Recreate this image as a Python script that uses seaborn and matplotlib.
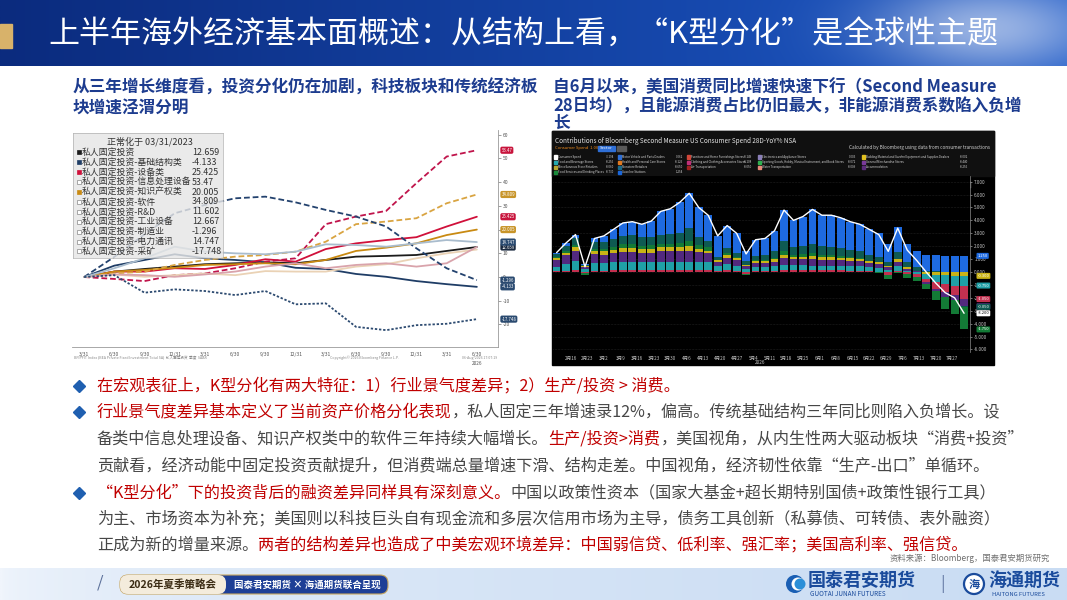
import numpy as np
import pandas as pd
import matplotlib
matplotlib.use("Agg")
import matplotlib.pyplot as plt
import matplotlib.transforms as mtrans
from matplotlib.patches import Rectangle, FancyBboxPatch, Circle
import seaborn as sns

sns.set_theme(style="white")
plt.rcParams["font.family"] = ["Noto Sans CJK SC", "DejaVu Sans"]
plt.rcParams["axes.unicode_minus"] = False

# ---------------- left chart data (normalised to 03/31/2023) ----------------
quarter_labels = ["3/31", "6/30", "9/30", "12/31", "3/31", "6/30", "9/30",
                  "12/31", "3/31", "6/30", "9/30", "12/31", "3/31", "6/30"]
pfi_total = [0, 2.3, 3.4, 4.4, 5.4, 5.8, 6.2, 5.8, 7.2, 8.6, 8.9, 9.3, 11.0, 12.659]
pfi_infra = [0, 4.8, 7.2, 9.6, 7.9, 7.2, 6.2, 3.9, 3.4, 1.3, 0.1, -1.7, -3.0, -4.133]
pfi_equip = [0, 2.3, 2.3, 3.7, 3.4, 5.1, 7.5, 6.5, 11.8, 14.2, 15.6, 16.8, 21.3, 25.425]
pfi_info = [0, -0.8, -1.7, 0.8, 1.5, 3.7, 6.5, 7.9, 22.3, 25.5, 27.9, 39.6, 50.8, 53.47]
pfi_ip = [0, 2.3, 3.0, 3.9, 5.1, 5.4, 5.8, 5.4, 7.2, 11.0, 12.4, 14.2, 17.7, 20.005]
pfi_soft = [0, 1.5, 2.3, 5.1, 7.2, 8.6, 9.3, 10.7, 14.9, 22.3, 23.4, 24.8, 31.1, 34.809]
pfi_rnd = [0, 1.1, 0.1, 0.8, 1.5, 0.8, 2.5, 2.3, 2.3, 4.4, 5.4, 7.9, 10.0, 11.602]
pfi_indus = [0, 1.1, 0.8, 0.1, 1.1, 2.3, 4.4, 5.8, 3.7, 5.1, 5.8, 4.4, 5.8, 12.667]
pfi_manuf = [0, 8.5, 18.0, 26.9, 30.4, 33.2, 33.9, 31.5, 28.3, 25.5, 21.3, 12.1, 3.7, -1.296]
pfi_power = [0, 3.7, 7.9, 12.8, 10.7, 10.0, 9.6, 10.7, 13.8, 13.5, 12.8, 14.2, 15.6, 14.747]
pfi_mining = [0, 0.8, -6.6, -5.2, -5.9, -7.6, -5.9, -11.5, -11.1, -21.0, -22.4, -20.3, -19.7, -17.748]

left_names = ["私人固定投资", "私人固定投资-基础结构类", "私人固定投资-设备类",
              "私人固定投资-信息处理设备", "私人固定投资-知识产权类", "私人固定投资-软件",
              "私人固定投资-R&D", "私人固定投资-工业设备", "私人固定投资-制造业",
              "私人固定投资-电力通讯", "私人固定投资-采矿"]
left_values = [pfi_total, pfi_infra, pfi_equip, pfi_info, pfi_ip, pfi_soft,
               pfi_rnd, pfi_indus, pfi_manuf, pfi_power, pfi_mining]
left_colors = ["#1b1b1b", "#1f3d66", "#d0103a", "#c0144b", "#c98a12", "#d9a441",
               "#ead2b5", "#d9a3ab", "#23426e", "#a9bccd", "#2c4a70"]
left_dash = [None, None, None, (3.2, 1.6), None, (3.2, 1.6), None, None,
             (3.2, 1.6), None, (1.3, 1.0)]
left_filled = [True, True, True, False, True, False, False, False, False, False, False]
left_tagged = [True, True, True, True, True, True, False, False, True, True, True]
left_tag_colors = ["#1b2a40", "#2a4a70", "#c8143c", "#c8143c", "#c8952a", "#c8952a",
                   None, None, "#2a4a70", "#2a4a70", "#2a4a70"]

# ---------------- right chart data (28D YoY contributions) ----------------
day_offsets = list(range(0, 176, 4))  # days after 2026-02-10
week_labels = ["2月16", "2月23", "3月2", "3月9", "3月16", "3月23", "3月30", "4月6",
               "4月13", "4月20", "4月27", "5月4", "5月11", "5月18", "5月25", "6月1",
               "6月8", "6月15", "6月22", "6月29", "7月6", "7月13", "7月20", "7月27"]
week_label_days = [6, 13, 20, 27, 34, 41, 48, 55, 62, 69, 76, 83, 90, 97, 104, 111,
                   118, 125, 132, 139, 146, 153, 160, 167]
gasoline = [0.1, 0.2, 0.3, 0.05, 0.3, 0.45, 0.75, 1.0, 1.05, 1.0, 1.2, 1.8, 1.95, 2.35, 2.7,
            2.3, 2.0, 1.6, 1.75, 1.5, 0.8, 1.25, 1.3, 1.6, 2.4, 2.1, 2.3, 2.7, 2.4, 2.45,
            2.35, 2.2, 2.1, 1.95, 1.8, 1.35, 1.9, 1.4, 1.25, 1.25, 1.25, 1.25, 1.25, 1.25]
nonstore = [0.25, 0.4, 0.5, 0.1, 0.5, 0.55, 0.6, 0.65, 0.7, 0.65, 0.65, 0.7, 0.75, 0.8, 1.0,
            0.6, 0.5, 0.25, 0.4, 0.35, 0.3, 0.35, 0.4, 0.5, 0.8, 0.55, 0.6, 0.7, 0.65, 0.65,
            0.6, 0.55, 0.55, 0.5, 0.45, 0.35, 0.55, 0.4, 0.25, 0.1, 0.05, 0.0, 0.0, -0.05]
food_serv = [0.1, 0.15, 0.2, -0.1, 0.15, 0.2, 0.25, 0.3, 0.3, 0.25, 0.3, 0.3, 0.3, 0.35, 0.4,
             0.3, 0.25, 0.05, 0.15, 0.1, -0.1, 0.05, 0.05, 0.1, 0.25, 0.15, 0.2, 0.2, 0.2, 0.15,
             0.15, 0.1, 0.05, 0.0, -0.1, -0.3, -0.05, -0.3, -0.35, -0.45, -0.65, -0.95, -1.1, -1.75]
building = [0.15, 0.2, 0.25, 0.05, 0.25, 0.25, 0.25, 0.3, 0.3, 0.3, 0.3, 0.3, 0.3, 0.3, 0.35,
            0.25, 0.2, 0.1, 0.2, 0.15, 0.1, 0.15, 0.15, 0.2, 0.3, 0.2, 0.2, 0.25, 0.2, 0.2,
            0.2, 0.2, 0.15, 0.15, 0.15, 0.1, 0.2, 0.1, 0.05, -0.15, -0.2, -0.25, -0.3, -0.3]
gen_merch = [0.5, 0.65, 0.8, 0.2, 0.7, 0.65, 0.7, 0.75, 0.75, 0.7, 0.7, 0.8, 0.8, 0.8, 0.9,
             0.8, 0.7, 0.35, 0.45, 0.4, 0.2, 0.3, 0.3, 0.35, 0.5, 0.45, 0.45, 0.5, 0.45, 0.45,
             0.4, 0.4, 0.4, 0.35, 0.3, 0.2, 0.35, 0.15, 0.05, -0.1, -0.2, -0.35, -0.4, -0.55]
food_bev = [0.35, 0.55, 0.7, 0.2, 0.6, 0.6, 0.6, 0.65, 0.65, 0.65, 0.65, 0.65, 0.65, 0.65, 0.6,
            0.6, 0.6, 0.4, 0.5, 0.4, 0.25, 0.35, 0.35, 0.35, 0.4, 0.4, 0.4, 0.35, 0.35, 0.35,
            0.35, 0.35, 0.35, 0.3, 0.3, 0.15, 0.35, 0.1, -0.15, -0.4, -0.6, -0.7, -0.75, -0.75]
clothing = [0.05, 0.1, 0.15, -0.1, 0.1, 0.1, 0.15, 0.15, 0.15, 0.15, 0.15, 0.15, 0.15, 0.15, 0.15,
            0.15, 0.15, 0.05, 0.15, 0.1, -0.15, 0.05, 0.05, 0.1, 0.15, 0.15, 0.15, 0.15, 0.15, 0.15,
            0.15, 0.1, 0.1, 0.05, 0.0, -0.25, 0.1, -0.15, -0.2, -0.25, -0.5, -0.6, -0.7, -1.05]
consumer_total = [1.5, 2.25, 2.9, 0.4, 2.6, 2.8, 3.3, 3.8, 3.9, 3.7, 3.95, 4.7, 4.9, 5.4, 6.1,
                  5.0, 4.4, 2.8, 3.6, 3.0, 1.4, 2.5, 2.6, 3.2, 4.8, 4.0, 4.3, 4.85, 4.4, 4.4,
                  4.2, 3.9, 3.7, 3.3, 2.9, 1.6, 3.4, 1.7, 0.9, 0.0, -0.85, -1.6, -2.0, -3.2]

comp = {"clothing": clothing, "food_bev": food_bev, "gen_merch": gen_merch,
        "building": building, "food_serv": food_serv, "nonstore": nonstore,
        "gasoline": gasoline}
comp_colors = {"clothing": "#c2304f", "food_bev": "#1f9fa6", "gen_merch": "#52297e",
               "building": "#c9b316", "food_serv": "#137a36", "nonstore": "#0e5a52",
               "gasoline": "#1e6ae0"}
pos_order = ["clothing", "food_bev", "gen_merch", "building", "food_serv", "nonstore", "gasoline"]
neg_order = ["building", "food_bev", "clothing", "gen_merch", "nonstore", "food_serv", "gasoline"]

legend_names = ["Consumer Spend", "Motor Vehicle and Parts Dealers", "Furniture and Home Furnishings Stores",
                "Electronics and Appliance Stores", "Building Material and Garden Equipment and Supplies Dealers",
                "Food and Beverage Stores", "Health and Personal Care Stores", "Clothing and Clothing Accessories Stores",
                "Sporting Goods, Hobby, Musical Instrument, and Book Stores", "General Merchandise Stores",
                "Miscellaneous Store Retailers", "Nonstore Retailers", "Air Transportation",
                "Water Transportation", "Accommodation", "Food Services and Drinking Places", "Gasoline Stations"]
legend_vals = ["-3.194", "0.062", "-0.149", "0.003", "-0.002", "-0.256", "-0.125", "-0.108", "-0.072",
               "-0.440", "-0.060", "-0.650", "-0.050", "-0.009", "-0.256", "-0.730", "1.254"]
legend_cols = ["#ffffff", "#2f6fd6", "#d0473a", "#8a7fb8", "#e0c020", "#25a9b0", "#e07a20", "#c0307a",
               "#30b050", "#7a3a9a", "#b8a830", "#1a6a8a", "#a02020", "#e88a7a", "#5a2a7a", "#1a8a3a",
               "#1a66d9"]

# ---------------- figure ----------------
W, H = 1067, 600
fig = plt.figure(figsize=(W / 100, H / 100), dpi=100)
fig.patch.set_facecolor("white")


def px_axes(x0, y0, x1, y1):
    return fig.add_axes([x0 / W, 1 - y1 / H, (x1 - x0) / W, (y1 - y0) / H])


bg = fig.add_axes([0, 0, 1, 1])
bg.set_xlim(0, W)
bg.set_ylim(H, 0)
bg.axis("off")

# header band
nx, ny = 420, 60
X, Y = np.meshgrid(np.linspace(0, W, nx), np.linspace(0, 66, ny))
cl = np.array([0x0b, 0x2b, 0x7e]) / 255
cr = np.array([0x1c, 0x58, 0xc6]) / 255
t = (X / W)[..., None]
img = cl + (cr - cl) * t
glow = np.exp(-(((X - 990) / 110) ** 2 + ((Y - 28) / 45) ** 2))
img = img + (1 - img) * glow[..., None] * 0.55
bg.imshow(np.clip(img, 0, 1), extent=[0, W, 66, 0], aspect="auto", zorder=0, interpolation="bilinear")
bg.set_xlim(0, W)
bg.set_ylim(H, 0)
bg.add_patch(Rectangle((0, 24), 12, 24, color="#d8b26a", zorder=2))
bg.text(48, 35, "上半年海外经济基本面概述：从结构上看，“K型分化”是全球性主题",
        color="white", fontsize=22.3, va="center", ha="left", zorder=3)

# subtitles
sub_c = "#1d3c8f"
bg.text(73, 88, "从三年增长维度看，投资分化仍在加剧，科技板块和传统经济板", color=sub_c,
        fontsize=12, fontweight="bold", va="center")
bg.text(73, 108, "块增速泾渭分明", color=sub_c, fontsize=12, fontweight="bold", va="center")

# right black image
bg.add_patch(Rectangle((552, 131), 442, 234, color="#000000", zorder=1))
bg.add_patch(Rectangle((552, 131), 442, 45, color="#101010", zorder=1))
bg.text(553, 88, "自6月以来，美国消费同比增速快速下行（Second Measure", color=sub_c,
        fontsize=12, fontweight="bold", va="center", zorder=4)
bg.text(553, 107, "28日均），且能源消费占比仍旧最大，非能源消费系数陷入负增", color=sub_c,
        fontsize=12, fontweight="bold", va="center", zorder=4)
bg.text(553, 123, "长", color=sub_c, fontsize=12, fontweight="bold", va="center", zorder=4)

# right chart header texts
bg.text(555, 141, "Contributions of Bloomberg Second Measure US Consumer Spend 28D-YoY% NSA",
        color="#e6e6e6", fontsize=4.6, va="center", zorder=3)
bg.text(555, 148, "Consumer Spend  1.000", color="#f08c1e", fontsize=3.0, va="center", zorder=3)
bg.add_patch(Rectangle((598, 145.5), 17, 5.5, color="#2f6fd6", zorder=3))
bg.text(606.5, 148.2, "Sector", color="white", fontsize=3.0, va="center", ha="center", zorder=4)
bg.add_patch(Rectangle((617, 145.5), 9, 5.5, color="#5a5a5a", zorder=3))
bg.text(990, 148, "Calculated by Bloomberg using data from consumer transactions",
        color="#cfcfcf", fontsize=3.4, va="center", ha="right", zorder=3)
col_marker_x = [554, 618, 687, 758, 862]
col_value_x = [614, 683, 752, 856, 968]
for k, (nm, vv, cc) in enumerate(zip(legend_names, legend_vals, legend_cols)):
    r, c = divmod(k, 5)
    yy = 157 + 5.1 * r
    bg.add_patch(Rectangle((col_marker_x[c], yy - 1.6), 3.0, 3.2, color=cc, zorder=3))
    bg.text(col_marker_x[c] + 4.2, yy, nm, color="#d8d8d8", fontsize=2.1, va="center", zorder=3)
    bg.text(col_value_x[c], yy, vv, color="#d8d8d8", fontsize=2.1, va="center", ha="right", zorder=3)

# ---------------- left chart ----------------
axL = px_axes(72, 130, 498, 347)
axL.set_facecolor("white")
q_idx = np.arange(len(quarter_labels))
for name, vals, col, dsh in zip(left_names, left_values, left_colors, left_dash):
    df = pd.DataFrame({"q": q_idx, "v": vals})
    sns.lineplot(data=df, x="q", y="v", ax=axL, color=col, lw=1.3, errorbar=None)
    if dsh is not None:
        axL.lines[-1].set_dashes(dsh)
axL.set_xlim(-0.4, 13.7)
axL.set_ylim(-29.5, 62)
axL.set_xlabel("")
axL.set_ylabel("")
axL.yaxis.tick_right()
axL.set_yticks(np.arange(-20, 61, 10))
axL.set_yticklabels([str(v) for v in np.arange(-20, 61, 10)])
axL.set_xticks(q_idx)
axL.set_xticklabels(quarter_labels)
axL.tick_params(axis="both", labelsize=3.6, colors="#555555", length=2, width=0.4, pad=1.5)
for s in ["top", "left"]:
    axL.spines[s].set_visible(False)
for s in ["bottom", "right"]:
    axL.spines[s].set_color("#9a9a9a")
    axL.spines[s].set_linewidth(0.6)
axL.grid(False)
blendL = mtrans.blended_transform_factory(axL.transAxes, axL.transData)
for vals, tc, tg in zip(left_values, left_tag_colors, left_tagged):
    if tg:
        axL.text(1.008, vals[-1], f"{vals[-1]:g}", transform=blendL, fontsize=3.1, color="white",
                 va="center", ha="left", clip_on=False,
                 bbox=dict(boxstyle="round,pad=0.25,rounding_size=0.4", fc=tc, ec="none"))
axL.text(13.0, -36.5, "2026", fontsize=3.4, color="#555555", ha="center", va="center", clip_on=False)

# legend box
axLeg = px_axes(73, 133, 223, 258)
axLeg.set_xlim(0, 150)
axLeg.set_ylim(125, 0)
axLeg.set_xticks([])
axLeg.set_yticks([])
axLeg.patch.set_facecolor("#e6e6e6")
axLeg.patch.set_alpha(0.82)
for s in axLeg.spines.values():
    s.set_color("#b0b0b0")
    s.set_linewidth(0.5)
axLeg.text(77, 9, "正常化于 03/31/2023", fontsize=6.5, color="#333333", ha="center", va="center")
for k, (name, vals, col, filled) in enumerate(zip(left_names, left_values, left_colors, left_filled)):
    yy = 19.5 + 9.9 * k
    axLeg.add_patch(Rectangle((3.5, yy - 2), 4, 4, facecolor=col if filled else "white",
                              edgecolor=col if filled else "#888888", lw=0.5))
    axLeg.text(9, yy, name, fontsize=6.4, color="#333333", va="center", ha="left")
    axLeg.text(119, yy, f"{vals[-1]:g}", fontsize=6.4, color="#333333", va="center", ha="left")

bg.text(74, 358, "BFIPFIT Index (BEA Private Fixed Investment Total SA)  私人固定投资  季度  SAAR",
        fontsize=2.6, color="#888888", va="center")
bg.text(330, 358, "Copyright© 2026 Bloomberg Finance L.P.", fontsize=2.6, color="#888888", va="center")
bg.text(497, 358, "06-Aug-2026 17:07:19", fontsize=2.6, color="#888888", va="center", ha="right")

# ---------------- right chart ----------------
axR = px_axes(553, 176, 970, 352)
axR.set_facecolor("black")
days = np.array(day_offsets)
pos_bottom = np.zeros(len(days))
neg_bottom = np.zeros(len(days))
for key in pos_order:
    v = np.clip(np.array(comp[key]), 0, None)
    axR.bar(days, v, width=3.3, bottom=pos_bottom, color=comp_colors[key], linewidth=0)
    pos_bottom = pos_bottom + v
tag_items = [("gasoline", pos_bottom[-1], gasoline[-1])]
for key in neg_order:
    v = np.clip(np.array(comp[key]), None, 0)
    axR.bar(days, v, width=3.3, bottom=neg_bottom, color=comp_colors[key], linewidth=0)
    neg_bottom = neg_bottom + v
    if v[-1] < 0:
        tag_items.append((key, neg_bottom[-1], comp[key][-1]))
sns.lineplot(x=days, y=consumer_total, ax=axR, color="white", lw=1.0, errorbar=None)
axR.set_xlim(-1.5, 174.5)
axR.set_ylim(-6.2, 7.44)
axR.yaxis.tick_right()
axR.set_yticks(np.arange(-6, 8, 1))
axR.set_yticklabels([f"{v:.3f}" for v in np.arange(-6, 8, 1)])
axR.set_xticks(week_label_days)
axR.set_xticklabels(week_labels)
axR.tick_params(axis="both", labelsize=3.3, colors="#c8c8c8", length=1.5, width=0.4, pad=1.5)
axR.grid(axis="y", color="#3a3a3a", lw=0.4, ls=":")
axR.grid(axis="x", visible=False)
for s in ["top", "left", "bottom"]:
    axR.spines[s].set_visible(False)
axR.spines["right"].set_color("#8a8a8a")
axR.spines["right"].set_linewidth(0.5)
axR.set_xlabel("")
axR.set_ylabel("")
blendR = mtrans.blended_transform_factory(axR.transAxes, axR.transData)
for key, ypos, val in tag_items:
    axR.text(1.018, ypos, f"{val:.3f}", transform=blendR, fontsize=2.9, color="white",
             va="center", ha="left", clip_on=False,
             bbox=dict(boxstyle="round,pad=0.25", fc=comp_colors[key], ec="none"))
axR.text(1.018, consumer_total[-1], f"{consumer_total[-1]:.3f}", transform=blendR, fontsize=2.9,
         color="black", va="center", ha="left", clip_on=False,
         bbox=dict(boxstyle="round,pad=0.25", fc="white", ec="none"))
axR.text(86, -7.0, "2026", fontsize=3.3, color="#c8c8c8", ha="center", va="center", clip_on=False)
bg.add_patch(Rectangle((957, 182), 6, 6, fc="#3a3a3a", ec="#777777", lw=0.3, zorder=3))
bg.add_patch(Rectangle((965, 182), 6, 6, fc="#3a3a3a", ec="#777777", lw=0.3, zorder=3))

# ---------------- bullets ----------------
red = "#c00000"
gray = "#474747"
renderer = fig.canvas.get_renderer()


def rich(x, y, segs, size=11.6):
    for txt, col in segs:
        tt = bg.text(x, y, txt, color=col, fontsize=size, va="center", ha="left", zorder=4)
        x += tt.get_window_extent(renderer=renderer).width


bullet_lines = [
    (386, True, [("在宏观表征上，K型分化有两大特征：1）行业景气度差异；2）生产/投资 > 消费。", red)]),
    (412, True, [("行业景气度差异基本定义了当前资产价格分化表现", red),
                 ("，私人固定三年增速录12%，偏高。传统基础结构三年同比则陷入负增长。设", gray)]),
    (439, False, [("备类中信息处理设备、知识产权类中的软件三年持续大幅增长。", gray), ("生产/投资>消费", red),
                  ("，美国视角，从内生性两大驱动板块“消费+投资”", gray)]),
    (466, False, [("贡献看，经济动能中固定投资贡献提升，但消费端总量增速下滑、结构走差。中国视角，经济韧性依靠“生产-出口”单循环。", gray)]),
    (493, True, [("“K型分化”下的投资背后的融资差异同样具有深刻意义。", red),
                 ("中国以政策性资本（国家大基金+超长期特别国债+政策性银行工具）", gray)]),
    (519, False, [("为主、市场资本为补充；美国则以科技巨头自有现金流和多层次信用市场为主导，债务工具创新（私募债、可转债、表外融资）", gray)]),
    (545, False, [("正成为新的增量来源。", gray),
                  ("两者的结构差异也造成了中美宏观环境差异：中国弱信贷、低利率、强汇率；美国高利率、强信贷。", red)]),
]
for y, has_bullet, segs in bullet_lines:
    if has_bullet:
        bg.plot([79], [y], marker="D", ms=6.5, color="#1f5fb0", zorder=4)
    rich(97, y, segs)
bg.text(1050, 558, "资料来源：Bloomberg，国泰君安期货研究", fontsize=6, color="#707070",
        ha="right", va="center", zorder=4)

# ---------------- footer ----------------
fx, fy = np.meshgrid(np.linspace(0, W, 300), np.linspace(568, 600, 20))
f_left = np.array([0xf0, 0xf5, 0xfc]) / 255
f_right = np.array([0xc9, 0xdc, 0xf3]) / 255
ft = (fx / W)[..., None]
fimg = f_left + (f_right - f_left) * np.sqrt(ft)
bg.imshow(fimg, extent=[0, W, 600, 568], aspect="auto", zorder=0, interpolation="bilinear")
bg.set_xlim(0, W)
bg.set_ylim(H, 0)
bg.text(100, 583, "/", fontsize=12, color="#5a6f99", ha="center", va="center", zorder=3)
bg.add_patch(FancyBboxPatch((120, 575), 268, 19, boxstyle="round,pad=0,rounding_size=8",
                            fc="#1e3f96", ec="#c9a860", lw=0.8, zorder=3))
bg.add_patch(FancyBboxPatch((120, 575), 106, 19, boxstyle="round,pad=0,rounding_size=8",
                            fc="#f4ecdc", ec="none", zorder=3))
bg.text(173, 584.5, "2026年夏季策略会", fontsize=7.6, fontweight="bold", color="#3b2c14",
        ha="center", va="center", zorder=4)
bg.text(307, 584.5, "国泰君安期货 × 海通期货联合呈现", fontsize=6.8, fontweight="bold", color="white",
        ha="center", va="center", zorder=4)
bg.add_patch(Circle((795, 584), 9, fc="#1a5fb4", ec="none", zorder=3))
bg.add_patch(Circle((798, 584), 6.5, fc="white", ec="none", zorder=3))
bg.add_patch(Circle((800, 584), 5.5, fc="#2b8fd8", ec="none", zorder=3))
bg.text(808, 580, "国泰君安期货", fontsize=13, fontweight="bold", color="#1a4b9c", va="center", zorder=4)
bg.text(810, 593.5, "GUOTAI JUNAN FUTURES", fontsize=4.6, color="#1a4b9c", va="center", zorder=4)
bg.text(943, 584, "|", fontsize=12, color="#6a7fa8", ha="center", va="center", zorder=4)
bg.add_patch(Circle((974, 584), 10, fc="white", ec="#1a4b9c", lw=1.6, zorder=3))
bg.text(974, 584, "海", fontsize=8, fontweight="bold", color="#1a4b9c", ha="center", va="center", zorder=4)
bg.text(988, 580, "海通期货", fontsize=13, fontweight="bold", color="#1a4b9c", va="center", zorder=4)
bg.text(992, 594, "HAITONG FUTURES", fontsize=4.2, color="#1a4b9c", va="center", zorder=4)

fig.savefig("out.png", dpi=100)
